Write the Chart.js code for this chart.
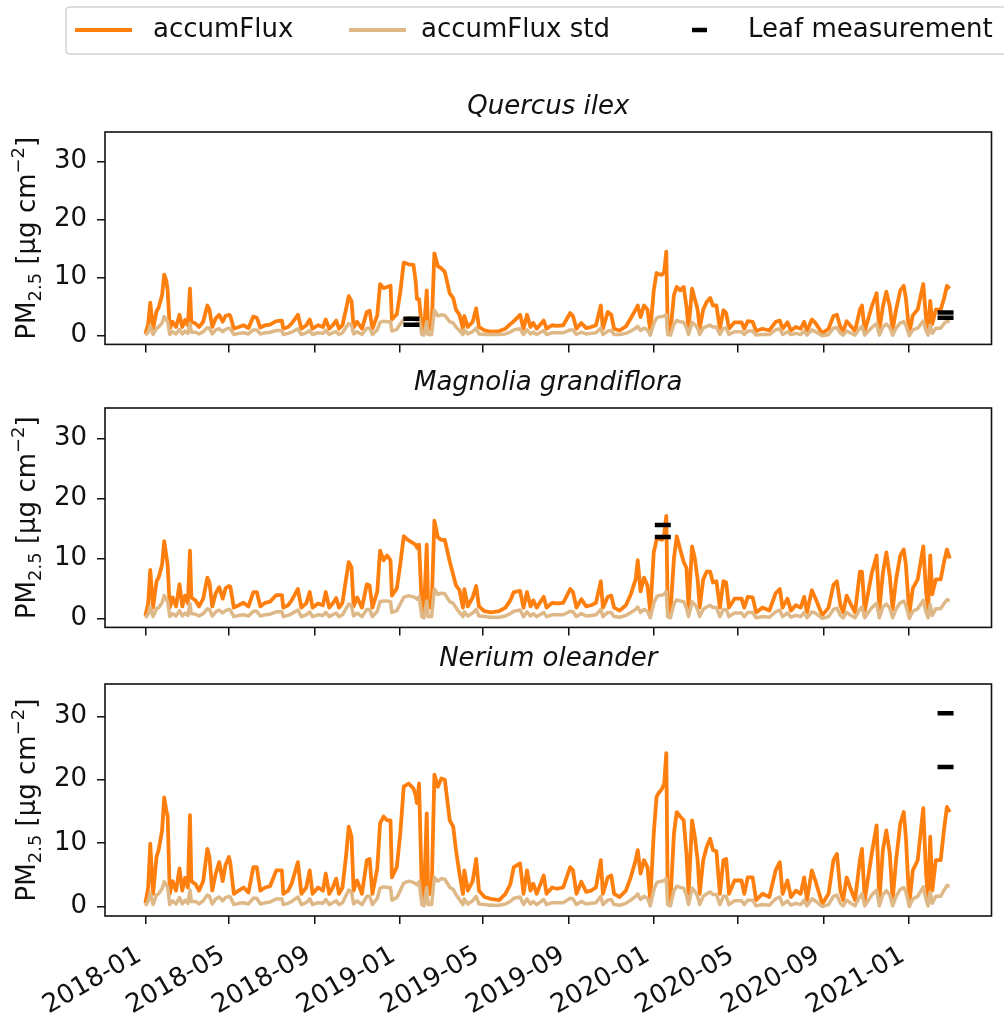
<!DOCTYPE html>
<html>
<head>
<meta charset="utf-8">
<script src="https://cdn.jsdelivr.net/npm/chart.js@4.4.1/dist/chart.umd.min.js"></script>
<style>
  body { margin: 0; background: #fff; width: 1004px; height: 1015px; overflow: hidden; position: relative; }
  canvas { position: absolute; left: 0; }
</style>
</head>
<body>
<canvas id="chartQuercus" width="1004" height="370" style="top:0px"></canvas>
<canvas id="chartMagnolia" width="1004" height="288" style="top:365px"></canvas>
<canvas id="chartNerium" width="1004" height="370" style="top:645px"></canvas>
<script>
// days since 2018-01-01
var days = [
  0,4,7,11,16,19,24,27,30,32, 35,39,44,49,53,57,61,64,66,72,
  77,83,89,92,96,101,106,111,115,120, 122,127,134,141,148,155,160,165,172,179,
  188,196,198,205,210,219,224,231,236,240, 248,255,259,264,269,274,278,283,288,292,
  296,299,304,311,318,322,326,333,337,342, 347,352,354,361,366,371,378,385,388,390,
  393,397,400,404,406,411,415,420,425,430, 437,442,446,451,456,458,463,470,475,479,
  487,496,508,517,524,529,538,543,548,553, 557,562,572,576,584,591,600,610,614,619,
  626,633,640,647,654,657,664,669,673,681, 690,697,704,707,711,716,721,725,730,734,
  737,742,745,748,750,754,759,763,768,773, 777,780,785,789,793,796,801,806,811,815,
  820,825,830,834,838,846,856,860,865,872, 877,886,896,905,911,915,922,927,934,941,
  946,950,957,962,972,981,988,993,998,1002, 1007,1012,1019,1026,1029,1033,1043,1050,1054,1059,
  1064,1069,1073,1078,1084,1089,1092,1097,1102,1109, 1117,1121,1124,1127,1130,1135,1142,1147,1151,1155
];

var quercusFlux = [
  0.3,2,5.7,1.2,4.2,4.8,7,10.5,9.5,7.8, 1.2,2.4,1.5,3.6,1.5,2.7,1.8,8.1,2.4,2.1,
  1.5,2.4,5.2,4.5,1.5,3,3.6,2.4,3.4,3.6, 3.4,1.2,1.5,1.8,1.3,3.3,3.1,1.4,1.8,1.9,
  2.5,2.6,1.2,1.5,2.1,3.6,1.2,1.8,2.8,1.2, 1.8,1.5,2.8,1.2,1.8,2.6,1.2,1.8,4.5,6.8,
  6,1.4,2.4,1.2,4.1,4.3,1.2,3.5,8.9,8.2, 8.4,8.6,2.8,3.7,7.5,12.6,12.3,12.2,9.5,6.3,
  6.3,1.2,0.8,7.8,1.2,1.2,14.2,12,11.6,11, 7.3,6.5,4.5,3.6,1.2,3.4,1.5,2.4,4.7,1.5,
  0.9,0.7,0.8,1.2,2,2.5,3.6,1.2,3.6,1.5, 2.2,1.2,2.6,1.2,1.8,1.7,1.8,3.9,3.4,1.2,
  2.2,1.3,1.5,1.8,5.2,1.2,4.1,3.6,1.2,0.9, 1.6,3,4.5,5.2,3.2,5.2,4.5,0.8,7.8,10.8,
  10.6,10.5,11,14.5,1.2,0.8,7,8.4,7.8,8.4, 5,1.2,8.1,6.3,4.5,1.2,4.5,5.8,6.5,5.2,
  5.2,1.2,4.4,3.9,1.2,2.3,2.3,1.2,2.5,2.4, 0.8,1.2,0.9,2.4,2.6,1.2,2.3,0.9,1.5,1.2,
  2.4,0.8,2.8,2.2,0.4,1.2,3.4,3.6,1.5,0.8, 2.5,1.8,0.8,4.5,5.2,0.8,5,7.3,1,5,
  7.6,5,1,4.5,7.8,8.6,6.5,0.5,3.5,4.5, 8.9,3,1,6,2,4.5,4.5,6.5,8.6,8.1
];
var quercusStd = [
  0.1,0.6,1.7,0.2,1.3,1.5,2.2,3.3,2.8,2.4, 0.2,0.7,0.3,1.1,0.3,0.8,0.4,2.1,0.6,0.6,
  0.3,0.7,1.4,1.3,0.3,1.0,1.2,0.7,1.1,1.3, 1.2,0.2,0.4,0.5,0.3,1.0,1.0,0.3,0.5,0.6,
  0.9,0.9,0.2,0.4,0.6,1.2,0.2,0.5,0.9,0.2, 0.5,0.4,0.9,0.2,0.5,0.7,0.2,0.5,1.4,2.1,
  1.8,0.3,0.7,0.2,1.3,1.3,0.2,1.0,2.3,2.5, 2.4,2.4,0.8,1.1,2.0,2.8,3.1,3.0,2.8,2.6,
  3.0,0.2,0.1,2.4,0.2,0.2,4.4,3.4,3.6,3.5, 2.4,2.2,1.5,0.9,0.2,1.0,0.3,0.7,1.3,0.3,
  0.2,0.2,0.2,0.3,0.6,1.0,1.2,0.2,1.0,0.3, 0.6,0.2,0.9,0.2,0.5,0.5,0.5,1.0,1.0,0.2,
  0.6,0.3,0.4,0.5,1.3,0.2,0.8,0.9,0.2,0.2, 0.4,0.8,1.3,1.6,0.9,1.3,1.0,0.1,2.1,3.0,
  3.2,3.3,3.4,3.6,0.2,0.1,2.0,2.6,2.4,2.3, 1.4,0.2,2.3,1.9,1.3,0.2,1.3,1.6,1.8,1.5,
  1.5,0.2,1.3,1.3,0.2,0.7,0.7,0.2,0.8,0.8, 0.1,0.2,0.2,1.0,1.2,0.2,0.7,0.2,0.4,0.2,
  0.8,0.1,1.0,0.7,0.0,0.2,1.3,1.4,0.4,0.1, 0.8,0.5,0.1,1.3,1.6,0.1,1.4,2.1,0.1,1.5,
  2.0,1.4,0.1,1.3,2.2,2.4,1.8,0.0,1.0,1.3, 2.5,0.9,0.1,1.8,0.4,1.3,1.3,2.1,2.5,2.4
];

var magnoliaFlux = [
  0.4,2.5,8.1,1.8,6.2,6.8,9,12.9,10.5,8.9, 1.8,3.5,2,5.7,2,3.8,2.5,11.3,3.5,3,
  2,3.3,6.8,6,2,4.2,5.2,3.3,5,5.4, 5.3,1.8,2.2,2.6,2,4.4,4.4,2,2.6,2.8,
  3.9,3.9,1.8,2.2,3,4.9,1.8,2.5,4.4,1.8, 2.5,2.2,4.4,1.8,2.5,3.4,1.8,2.6,6.5,9.4,
  8.5,2,3.5,1.8,5.7,5.5,1.8,4.5,11.3,9.7, 10.5,9.7,3.8,5,9,13.7,13,12.5,12.3,11.8,
  12.3,1.8,1,12.3,1.8,1.8,16.3,13.5,13.1,13.1, 9.5,7.3,5.5,4.7,1.8,4.9,2,3.5,5.4,2,
  1.2,1,1.2,1.8,3,4.4,4.6,1.8,4.4,2, 3,1.8,3.6,1.8,2.6,2.5,2.6,4.9,4.4,1.8,
  3.2,2,2.2,2.6,6.2,1.8,3.6,3.8,1.8,1.3, 2.2,4,6.5,9.7,4.5,6.8,5.5,1,11,13.1,
  13.3,13.1,14,17.1,1.8,1,10,13.7,11.5,9.4, 8.4,1.8,12,10,6.5,1.8,6.5,7.8,7.8,6,
  6.2,1.8,6.2,6,1.8,3.3,3.3,1.8,3.6,3.5, 1,1.8,1.3,4.2,4.9,1.8,3.3,1.3,2.2,1.8,
  3.6,1,4.7,3.4,0.5,1.8,5.6,6.2,2.2,1, 3.8,2.6,1,7.8,7.8,1.2,7.5,10.5,1.5,7.5,
  11,7,1.5,6.5,10.5,11.5,9,0.8,5,6.5, 12,4.5,1.5,10.5,4,6.5,6.5,9.5,11.5,10
];
var magnoliaStd = [
  0.1,0.7,2.0,0.3,1.6,1.8,2.6,3.8,3.2,2.8, 0.3,0.8,0.4,1.3,0.4,0.9,0.5,2.5,0.8,0.7,
  0.4,0.8,1.6,1.5,0.4,1.1,1.4,0.9,1.3,1.5, 1.4,0.3,0.5,0.6,0.4,1.2,1.2,0.4,0.6,0.7,
  1.1,1.1,0.3,0.5,0.8,1.4,0.3,0.6,1.1,0.3, 0.6,0.5,1.0,0.3,0.6,0.9,0.3,0.6,1.6,2.4,
  2.1,0.4,0.9,0.3,1.5,1.5,0.3,1.2,2.8,2.9, 2.9,2.8,1.0,1.3,2.4,3.5,3.8,3.6,3.4,3.2,
  3.6,0.3,0.1,2.9,0.3,0.3,4.9,4.0,4.2,4.1, 2.8,2.5,1.8,1.0,0.3,1.1,0.4,0.9,1.5,0.4,
  0.3,0.2,0.2,0.4,0.8,1.2,1.4,0.3,1.1,0.4, 0.8,0.3,1.0,0.3,0.6,0.6,0.6,1.2,1.1,0.3,
  0.8,0.4,0.5,0.6,1.5,0.3,1.0,1.0,0.3,0.2, 0.5,1.0,1.5,1.9,1.0,1.5,1.2,0.1,2.5,3.6,
  3.8,3.9,4.0,4.5,0.3,0.1,2.4,3.1,2.9,2.8, 1.7,0.3,2.8,2.3,1.5,0.3,1.5,1.9,2.2,1.8,
  1.8,0.3,1.5,1.5,0.3,0.9,0.9,0.3,1.0,1.0, 0.1,0.3,0.2,1.1,1.4,0.3,0.9,0.2,0.5,0.3,
  1.0,0.1,1.1,0.9,0.0,0.3,1.5,1.7,0.5,0.1, 1.0,0.6,0.1,1.6,1.9,0.1,1.8,2.5,0.1,1.9,
  2.4,1.7,0.1,1.6,2.6,2.9,2.2,0.0,1.2,1.6, 3.0,1.1,0.1,2.3,0.5,1.6,1.6,2.5,3.1,3.0
];

var neriumFlux = [
  0.5,3,9.9,2,7.8,8.9,12,17.2,15.2,14.2, 2,4,2.5,6,2.5,4.5,3,14.4,4,3.5,
  2.5,4,9.1,7.8,2.5,5.2,7,4,6.5,7.8, 6.8,2,2.5,3,2.2,6.2,6.2,2.5,3,3.2,
  5.7,5.7,2,2.5,3.6,7,2,3,5.7,2, 3,2.5,5.2,2,3,4.4,2,3,7.8,12.6,
  11,2.5,4.1,2,7.3,7.5,2,6,13.1,14.2, 13.6,13.6,4.6,6.2,11.5,18.9,19.4,18.6,17.6,16.3,
  19.4,2,1,14.7,2,2,20.8,18.9,20.2,20, 13.6,12.6,8.9,5.2,2,5.7,2.5,4,7.5,2.5,
  1.5,1.2,1,2,3.5,6.2,6.8,2,5.7,2.5, 3.6,2,4.9,2,3,2.8,3,6.2,5.7,2,
  3.9,2.3,2.5,3,7.3,2,4.6,4.9,2,1.5, 2.5,4.6,7.3,8.9,5.2,7.3,6.2,1,11.5,17.3,
  17.9,18.6,19.4,24.2,2,1,11.5,14.9,14.2,13.6, 8.3,2,13.6,11,7.3,2,7.3,9.4,10.7,8.9,
  8.7,2,7.3,7.5,2,4.1,4.1,2,4.6,4.6, 1,2,1.5,5.7,7,2,4.1,1.5,2.5,2,
  4.6,1,5.7,4.1,0.4,2,7.3,8.3,2.5,1, 4.6,3,1,7.3,9.1,1,8.3,12.8,1,8.9,
  12,8.3,1,7.3,13.1,14.9,11,0.4,5.7,7.3, 15.5,5.2,1,11,2.5,7.3,7.3,12.3,15.7,14.9
];
var neriumStd = [
  0.1,0.8,2.2,0.3,1.8,2.0,2.8,3.9,3.4,3.0, 0.3,0.9,0.4,1.4,0.4,1.0,0.5,2.6,0.8,0.8,
  0.4,0.9,1.8,1.6,0.4,1.2,1.5,0.9,1.4,1.6, 1.5,0.3,0.5,0.6,0.4,1.3,1.3,0.4,0.6,0.7,
  1.2,1.2,0.3,0.5,0.8,1.5,0.3,0.6,1.2,0.3, 0.6,0.5,1.1,0.3,0.6,0.9,0.3,0.6,1.7,2.6,
  2.3,0.4,0.9,0.3,1.6,1.6,0.3,1.3,2.9,3.1, 3.0,3.0,1.0,1.4,2.5,3.7,4.0,3.8,3.6,3.4,
  3.9,0.3,0.1,3.0,0.3,0.3,4.6,4.0,4.4,4.3, 3.0,2.7,1.9,1.1,0.3,1.2,0.4,0.9,1.6,0.4,
  0.3,0.2,0.2,0.4,0.8,1.3,1.5,0.3,1.2,0.4, 0.8,0.3,1.1,0.3,0.6,0.6,0.6,1.3,1.2,0.3,
  0.8,0.4,0.5,0.6,1.6,0.3,1.0,1.1,0.3,0.2, 0.5,1.0,1.6,2.0,1.1,1.6,1.3,0.1,2.6,3.7,
  3.9,4.0,4.1,4.4,0.3,0.1,2.5,3.2,3.0,2.9, 1.8,0.3,2.9,2.4,1.6,0.3,1.6,2.0,2.3,1.9,
  1.9,0.3,1.6,1.6,0.3,0.9,0.9,0.3,1.0,1.0, 0.1,0.3,0.2,1.2,1.5,0.3,0.9,0.2,0.5,0.3,
  1.0,0.1,1.2,0.9,0.0,0.3,1.6,1.8,0.5,0.1, 1.0,0.6,0.1,1.6,2.0,0.1,1.8,2.6,0.1,1.9,
  2.5,1.8,0.1,1.6,2.7,3.0,2.3,0.0,1.2,1.6, 3.1,1.1,0.1,2.3,0.5,1.6,1.6,2.6,3.3,3.2
];

// leaf measurements (day, value)
var quercusLeafDays = [382, 382, 1149, 1149];
var quercusLeafValues = [2.9, 1.9, 4.0, 3.1];
var magnoliaLeafDays = [743, 743];
var magnoliaLeafValues = [15.6, 13.6];
var neriumLeafDays = [1149, 1149];
var neriumLeafValues = [30.5, 22.0];

var xTickDays = [0, 120, 243, 365, 485, 608, 730, 851, 974, 1096];
var xTickLabels = ['2018-01','2018-05','2018-09','2019-01','2019-05','2019-09','2020-01','2020-05','2020-09','2021-01'];
var yTicks = [0, 10, 20, 30];

var FONT = '"DejaVu Sans"';
var ORANGE = '#ff7f0e';
var TAN = '#deb887';

function toPoints(xs, ys) {
  return xs.map(function(d, i) { return { x: d, y: ys[i] }; });
}

function drawYLabel(ctx, x, y) {
  var parts = [
    { t: 'PM', size: 26, dy: 0 },
    { t: '2.5', size: 18, dy: 6 },
    { t: ' [\u03bcg cm', size: 26, dy: 0 },
    { t: '\u22122', size: 18, dy: -11 },
    { t: ']', size: 26, dy: 0 }
  ];
  ctx.save();
  ctx.translate(x, y);
  ctx.rotate(-Math.PI / 2);
  ctx.fillStyle = '#111';
  ctx.textAlign = 'left';
  ctx.textBaseline = 'alphabetic';
  var total = 0;
  parts.forEach(function(p) {
    ctx.font = p.size + 'px ' + FONT;
    p.w = ctx.measureText(p.t).width;
    total += p.w;
  });
  var cx = -total / 2;
  parts.forEach(function(p) {
    ctx.font = p.size + 'px ' + FONT;
    ctx.fillText(p.t, cx, p.dy);
    cx += p.w;
  });
  ctx.restore();
}

function drawLegend(ctx) {
  ctx.save();
  var x0 = 66, y0 = 7, x1 = 1014, y1 = 54, r = 4;
  ctx.beginPath();
  ctx.moveTo(x0 + r, y0);
  ctx.lineTo(x1 - r, y0);
  ctx.quadraticCurveTo(x1, y0, x1, y0 + r);
  ctx.lineTo(x1, y1 - r);
  ctx.quadraticCurveTo(x1, y1, x1 - r, y1);
  ctx.lineTo(x0 + r, y1);
  ctx.quadraticCurveTo(x0, y1, x0, y1 - r);
  ctx.lineTo(x0, y0 + r);
  ctx.quadraticCurveTo(x0, y0, x0 + r, y0);
  ctx.closePath();
  ctx.fillStyle = '#fff';
  ctx.fill();
  ctx.strokeStyle = '#d3d3d3';
  ctx.lineWidth = 1.5;
  ctx.stroke();

  var cy = 30;
  ctx.lineWidth = 4;
  ctx.strokeStyle = ORANGE;
  ctx.beginPath(); ctx.moveTo(75, cy); ctx.lineTo(132, cy); ctx.stroke();
  ctx.strokeStyle = TAN;
  ctx.beginPath(); ctx.moveTo(349, cy); ctx.lineTo(406, cy); ctx.stroke();
  ctx.strokeStyle = '#000';
  ctx.lineWidth = 4.5;
  ctx.beginPath(); ctx.moveTo(692, cy); ctx.lineTo(707, cy); ctx.stroke();

  ctx.fillStyle = '#111';
  ctx.font = '26px ' + FONT;
  ctx.textAlign = 'left';
  ctx.textBaseline = 'middle';
  ctx.fillText('accumFlux', 153, cy);
  ctx.fillText('accumFlux std', 421, cy);
  ctx.fillText('Leaf measurement', 748, cy);
  ctx.restore();
}

var panelPlugin = {
  id: 'panel',
  afterDraw: function(chart, args, opts) {
    var ctx = chart.ctx, a = chart.chartArea;
    ctx.save();
    ctx.strokeStyle = '#111';
    ctx.lineWidth = 1.6;
    ctx.strokeRect(a.left, a.top, a.right - a.left, a.bottom - a.top);
    ctx.fillStyle = '#111';
    ctx.font = 'italic 26px ' + FONT;
    ctx.textAlign = 'center';
    ctx.textBaseline = 'middle';
    ctx.fillText(opts.title, (a.left + a.right) / 2, a.top - 25);
    ctx.restore();
    drawYLabel(ctx, 35, (a.top + a.bottom) / 2);
    if (opts.legend) drawLegend(ctx);
  }
};

function makePanel(id, title, flux, std, leafDays, leafValues, padTop, xHeight, showLabels, legend) {
  var ctx = document.getElementById(id).getContext('2d');
  return new Chart(ctx, {
    type: 'line',
    data: {
      datasets: [
        {
          label: 'accumFlux',
          data: toPoints(days, flux),
          borderColor: ORANGE,
          borderWidth: 3.8,
          borderJoinStyle: 'round',
          pointRadius: 0,
          tension: 0,
          order: 3
        },
        {
          label: 'accumFlux std',
          data: toPoints(days, std),
          borderColor: TAN,
          borderWidth: 3.5,
          borderJoinStyle: 'round',
          pointRadius: 0,
          tension: 0,
          order: 2
        },
        {
          label: 'Leaf measurement',
          data: toPoints(leafDays, leafValues),
          showLine: false,
          pointStyle: 'line',
          pointRadius: 8,
          pointBorderWidth: 4.5,
          pointBorderColor: '#000',
          pointBackgroundColor: '#000',
          order: 1
        }
      ]
    },
    options: {
      responsive: false,
      animation: false,
      events: [],
      layout: { padding: { top: padTop, bottom: 0, left: 0, right: 3 } },
      plugins: {
        legend: { display: false },
        tooltip: { enabled: false },
        panel: { title: title, legend: legend }
      },
      scales: {
        x: {
          type: 'linear',
          min: -58,
          max: 1215,
          afterBuildTicks: function(scale) {
            scale.ticks = xTickDays.map(function(d) { return { value: d }; });
          },
          afterFit: function(scale) { scale.height = xHeight; },
          grid: { drawOnChartArea: false, drawTicks: true, tickLength: 8, color: '#111', lineWidth: 1.5 },
          border: { display: false },
          ticks: {
            autoSkip: false,
            minRotation: 30,
            maxRotation: 30,
            padding: 16,
            labelOffset: -6,
            color: '#111',
            font: { family: 'DejaVu Sans', size: 26 },
            callback: function(value) {
              if (!showLabels) return '';
              var i = xTickDays.indexOf(value);
              return i >= 0 ? xTickLabels[i] : '';
            }
          }
        },
        y: {
          min: -1.5,
          max: 35.1,
          afterBuildTicks: function(scale) {
            scale.ticks = yTicks.map(function(v) { return { value: v }; });
          },
          afterFit: function(scale) { scale.width = 105; },
          grid: { drawOnChartArea: false, drawTicks: true, tickLength: 8, color: '#111', lineWidth: 1.5 },
          border: { display: false },
          ticks: {
            padding: 10,
            color: '#111',
            font: { family: 'DejaVu Sans', size: 26 }
          }
        }
      }
    },
    plugins: [panelPlugin]
  });
}

// canvas tops: 0, 365, 645 -> plot areas at 132-362, 408-639, 684-916
makePanel('chartQuercus', 'Quercus ilex', quercusFlux, quercusStd, quercusLeafDays, quercusLeafValues, 132, 8, false, true);
makePanel('chartMagnolia', 'Magnolia grandiflora', magnoliaFlux, magnoliaStd, magnoliaLeafDays, magnoliaLeafValues, 43, 14, false, false);
makePanel('chartNerium', 'Nerium oleander', neriumFlux, neriumStd, neriumLeafDays, neriumLeafValues, 39, 99, true, false);
</script>
</body>
</html>
